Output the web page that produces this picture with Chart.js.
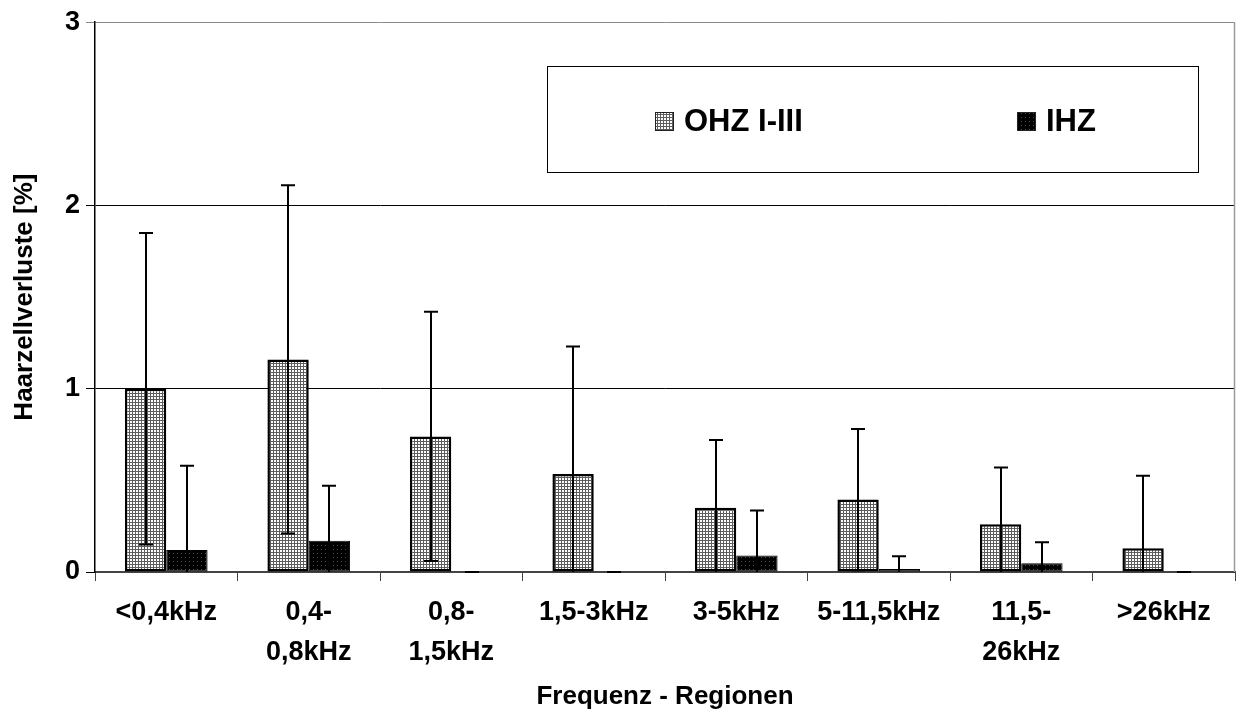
<!DOCTYPE html>
<html>
<head>
<meta charset="utf-8">
<title>Haarzellverluste</title>
<script src="https://cdn.jsdelivr.net/npm/chart.js@4.4.1/dist/chart.umd.min.js"></script>
<style>
    html, body { margin: 0; padding: 0; background: #fff; }
</style>
</head>
<body>
<canvas id="chart" width="1236" height="720"></canvas>
<script>
// Frequency regions (x categories)
const regions = [
    '<0,4kHz',
    ['0,4-', '0,8kHz'],
    ['0,8-', '1,5kHz'],
    '1,5-3kHz',
    '3-5kHz',
    '5-11,5kHz',
    ['11,5-', '26kHz'],
    '>26kHz'
];

// Outer hair cells, rows I-III: mean loss and standard deviation [%]
const ohzMean = [1.00, 1.16, 0.74, 0.535, 0.35, 0.395, 0.26, 0.13];
const ohzSd = [0.85, 0.95, 0.68, 0.695, 0.37, 0.385, 0.31, 0.395];

// Inner hair cells
const ihzMean = [0.12, 0.17, 0, 0, 0.09, 0.016, 0.048, 0];
const ihzSd = [0.46, 0.30, 0, 0, 0.245, 0.07, 0.115, 0];

const yTicks = [0, 1, 2, 3];

const FONT = "'Liberation Sans', Arial, Helvetica, sans-serif";

// Small tiled fills for the bars
function gridPattern(bg, fg, size) {
    const c = document.createElement('canvas');
    c.width = size;
    c.height = size;
    const g = c.getContext('2d');
    g.fillStyle = bg;
    g.fillRect(0, 0, size, size);
    g.fillStyle = fg;
    g.fillRect(0, 0, size, 1);
    g.fillRect(0, 0, 1, size);
    return g.createPattern(c, 'repeat');
}

function dotPattern(bg, fg, size) {
    const c = document.createElement('canvas');
    c.width = size;
    c.height = size;
    const g = c.getContext('2d');
    g.fillStyle = bg;
    g.fillRect(0, 0, size, size);
    g.fillStyle = fg;
    g.fillRect(1, 1, 1, 1);
    return g.createPattern(c, 'repeat');
}

const ohzFill = gridPattern('#ffffff', '#5e5e5e', 3);
const ihzFill = dotPattern('#000000', '#4a4a4a', 4);

// Error bars: line from mean - sd (clipped at 0) up to mean + sd
const errorBars = {
    id: 'errorBars',
    afterDatasetsDraw(chart) {
        const { ctx, scales: { y } } = chart;
        ctx.save();
        ctx.strokeStyle = '#000';
        ctx.lineWidth = 2;
        chart.data.datasets.forEach((ds, i) => {
            const meta = chart.getDatasetMeta(i);
            meta.data.forEach((bar, j) => {
                const mean = ds.data[j];
                const sd = ds.errors[j];
                const low = mean - sd;
                const top = y.getPixelForValue(mean + sd);
                const bottom = y.getPixelForValue(Math.max(low, 0));
                const x = Math.round(bar.x);
                ctx.beginPath();
                ctx.moveTo(x, bottom);
                ctx.lineTo(x, top);
                ctx.moveTo(x - 7, top);
                ctx.lineTo(x + 7, top);
                if (low > 0) {
                    ctx.moveTo(x - 7, bottom);
                    ctx.lineTo(x + 7, bottom);
                }
                ctx.stroke();
            });
        });
        ctx.restore();
    }
};

// Grey right edge of the plot area
const plotFrame = {
    id: 'plotFrame',
    beforeDatasetsDraw(chart) {
        const { ctx, chartArea } = chart;
        ctx.save();
        ctx.strokeStyle = '#9a9a9a';
        ctx.lineWidth = 1.5;
        ctx.beginPath();
        ctx.moveTo(chartArea.right - 0.5, chartArea.top);
        ctx.lineTo(chartArea.right - 0.5, chartArea.bottom);
        ctx.stroke();
        ctx.restore();
    }
};

// Boxed legend inside the plot
const legendBox = {
    id: 'legendBox',
    afterDraw(chart) {
        const ctx = chart.ctx;
        ctx.save();
        ctx.fillStyle = '#fff';
        ctx.fillRect(547, 66, 651, 106);
        ctx.strokeStyle = '#000';
        ctx.lineWidth = 1;
        ctx.strokeRect(547.5, 66.5, 651, 106);

        const items = [
            { x: 655, ds: chart.data.datasets[0] },
            { x: 1017, ds: chart.data.datasets[1] }
        ];
        ctx.font = 'bold 31px ' + FONT;
        ctx.textBaseline = 'middle';
        ctx.textAlign = 'left';
        items.forEach(it => {
            ctx.fillStyle = it.ds.backgroundColor;
            ctx.fillRect(it.x, 112, 19, 19);
            ctx.strokeStyle = '#222';
            ctx.lineWidth = 1;
            ctx.strokeRect(it.x + 0.5, 112.5, 18, 18);
            ctx.fillStyle = '#000';
            ctx.fillText(it.ds.label, it.x + 29, 122);
        });
        ctx.restore();
    }
};

new Chart(document.getElementById('chart'), {
    type: 'bar',
    data: {
        labels: regions,
        datasets: [
            {
                label: 'OHZ I-III',
                data: ohzMean,
                errors: ohzSd,
                backgroundColor: ohzFill,
                borderColor: '#000',
                borderWidth: 2.5,
                borderSkipped: false
            },
            {
                label: 'IHZ',
                data: ihzMean,
                errors: ihzSd,
                backgroundColor: ihzFill,
                borderColor: '#000',
                borderWidth: ctx => (ctx.raw > 0 ? 1 : 0),
                borderSkipped: false
            }
        ]
    },
    options: {
        responsive: false,
        animation: false,
        categoryPercentage: 0.58,
        barPercentage: 1.0,
        layout: { padding: { top: 18, right: 1, left: 0, bottom: 0 } },
        plugins: {
            legend: { display: false },
            tooltip: { enabled: false }
        },
        scales: {
            x: {
                grid: {
                    offset: true,
                    drawOnChartArea: false,
                    tickLength: 9,
                    color: '#444',
                    lineWidth: 1
                },
                border: { color: '#444', width: 2 },
                ticks: {
                    color: '#000',
                    autoSkip: false,
                    maxRotation: 0,
                    padding: 12,
                    font: { family: FONT, size: 27, weight: 'bold', lineHeight: 1.48 }
                },
                title: {
                    display: true,
                    text: 'Frequenz - Regionen',
                    color: '#000',
                    font: { family: FONT, size: 26, weight: 'bold', lineHeight: 1.2 },
                    padding: { top: 0, bottom: 8 }
                },
                afterFit(scale) { scale.height = 148; }
            },
            y: {
                min: 0,
                max: 3,
                afterBuildTicks(scale) {
                    scale.ticks = yTicks.map(v => ({ value: v }));
                },
                ticks: {
                    color: '#000',
                    padding: 6,
                    font: { family: FONT, size: 27, weight: 'bold' }
                },
                grid: {
                    tickLength: 9,
                    color: ctx => (ctx.tick && ctx.tick.value === 3 ? '#8a8a8a' : '#000'),
                    lineWidth: 1
                },
                border: { color: '#000', width: 1.5 },
                title: {
                    display: true,
                    text: 'Haarzellverluste [%]',
                    color: '#000',
                    font: { family: FONT, size: 26, weight: 'bold', lineHeight: 1.2 },
                    padding: { top: 9, bottom: 0 }
                },
                afterFit(scale) { scale.width = 95; }
            }
        }
    },
    plugins: [plotFrame, errorBars, legendBox]
});
</script>
</body>
</html>
